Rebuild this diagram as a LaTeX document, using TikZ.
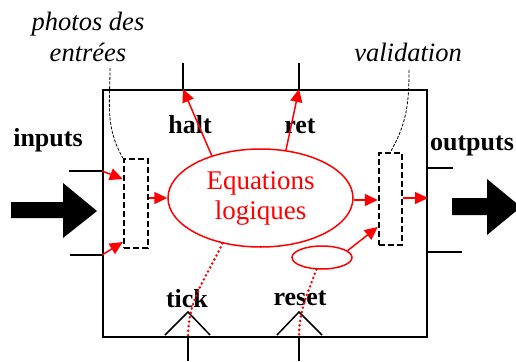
\documentclass[tikz,border=0pt]{standalone}
\usepackage{fontspec}
\setmainfont{Liberation Serif}
\newfontfamily\eqfont{Liberation Serif}
\newfontfamily\notefont{Liberation Serif Italic}
\usetikzlibrary{arrows.meta, shapes.geometric}

\begin{document}
\begin{tikzpicture}[x=1pt, y=-1pt,
  lbl/.style={font=\fontsize{26}{30}\selectfont\bfseries, inner sep=0pt, anchor=base},
  note/.style={font=\notefont\fontsize{26.5}{31}\selectfont, inner sep=0pt},
  pin/.style={line width=2pt},
  buf/.style={draw, line width=2.5pt, dash pattern=on 6pt off 3pt,
              minimum width=24pt, inner sep=0pt},
  sig/.style={red, line width=1.5pt, -{Triangle[length=13pt, width=12pt]}},
  clk/.style={red, line width=2.8pt, dash pattern=on 0pt off 4.5pt, line cap=round},
  guide/.style={line width=0.8pt, dash pattern=on 3pt off 1.5pt},
  >=stealth]
\useasboundingbox (0,0) rectangle (516,361);
\clip (0,0) rectangle (516,361);
\node[draw, line width=2pt, minimum width=324pt, minimum height=247pt, inner sep=0pt] (box) at (265,213.5) {};
\node[buf, minimum height=89pt] (lbuf) at (136,203.5) {};
\node[buf, minimum width=23pt, minimum height=92pt] (rbuf) at (390.5,199) {};
\node[ellipse, draw=red, line width=1.5pt, minimum width=185pt, minimum height=98pt,
      inner sep=0pt, align=center, text=red, font=\eqfont\fontsize{27}{30}\selectfont] (eq) at (260.5,198) {Equations\\logiques};
\node[ellipse, draw=red, line width=1.5pt, minimum width=60pt, minimum height=23pt, inner sep=0pt] (rst) at (322,257.5) {};
% pins
\coordinate (in1) at (69,171);
\coordinate (in2) at (70,255);
\coordinate (out1) at (453,168);
\coordinate (out2) at (462,252);
\coordinate (halt) at (183,63);
\coordinate (ret) at (299,63);
\coordinate (tick) at (188,361);
\coordinate (reset) at (299,361);
\coordinate (tickc) at (188,312);
\coordinate (resetc) at (299,312);
\draw[pin] (in1) -- (in1 -| box.west);
\draw[pin] (in2) -- (in2 -| box.west);
\draw[pin] (out1) -- (out1 -| box.east);
\draw[pin] (out2) -- (out2 -| box.east);
\draw[pin] (halt) -- (halt |- box.north);
\draw[pin] (ret) -- (ret |- box.north);
\draw[pin] (tick) -- (tick |- box.south);
\draw[pin] (reset) -- (reset |- box.south);
\draw[line width=1.5pt] (tickc) ++(-23,23) -- (tickc) -- ++(22,23);
\draw[line width=1.5pt] (resetc) ++(-22,23) -- (resetc) -- ++(23,23);
% big arrows
\fill (11,202) -- (63,202) -- (63,183) -- (97,211) -- (63,238) -- (63,218) -- (11,218) -- cycle;
\fill (452,198) -- (487,198) -- (487,179) -- (521,207) -- (487,235) -- (487,215) -- (452,215) -- cycle;
% labels
\node[note, anchor=north, align=center] (photos) at (88,12) {photos des\\entrées};
\node[note, anchor=base] (valid) at (408,62) {validation};
\node[lbl] (inlbl) at (48,146) {inputs};
\node[lbl] (outlbl) at (472,150) {outputs};
\node[lbl] (haltlbl) at (190,133) {halt};
\node[lbl] (retlbl) at (300,133) {ret};
\node[lbl] (ticklbl) at (187,307) {tick};
\node[lbl] (resetlbl) at (300,305) {reset};
\coordinate (phnote) at (110,68);
\coordinate (vanote) at (409,70);
\draw[guide] (phnote) to[out=-90, in=120] (lbuf.north west);
\draw[guide] (vanote) to[out=-90, in=60] (rbuf.north);
% signals
\draw[sig] (in1 -| box.west) -- ([yshift=24.5pt]lbuf.west);
\draw[sig] (in2 -| box.west) -- ([yshift=-38.5pt]lbuf.west);
\draw[sig] (eq.west -| lbuf.east) -- (eq.west);
\draw[sig] (eq.139) -- (halt |- box.north);
\draw[sig] (eq.62) -- (ret |- box.north);
\draw[sig] ([yshift=-2pt]eq.east) -- ([yshift=-2pt]eq.east -| rbuf.west);
\draw[sig] (rst.15) -- ([yshift=-28pt]rbuf.west);
\draw[sig] ([yshift=1pt]rbuf.east) -- ([yshift=1pt]rbuf.east -| box.east);
\draw[clk] (eq.230) to[out=245, in=90] (tick |- box.south);
\draw[clk] (rst.245) to[out=250, in=90] (reset |- box.south);
\end{tikzpicture}
\end{document}
